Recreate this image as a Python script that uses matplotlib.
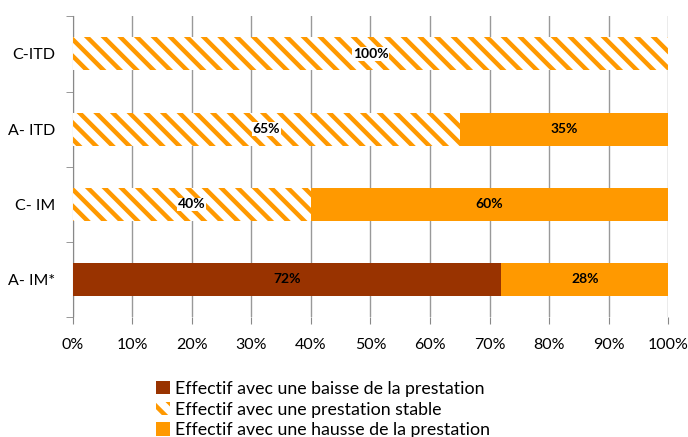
import matplotlib.pyplot as plt
from matplotlib.ticker import PercentFormatter, FixedLocator
from matplotlib.patches import Patch

plt.rcParams['font.family'] = ['Lato', 'DejaVu Sans']
plt.rcParams['hatch.linewidth'] = 3.2
plt.rcParams['hatch.color'] = '#FF9900'

categories = ['A- IM*', 'C- IM', 'A- ITD', 'C-ITD']
baisse = [72, 0, 0, 0]
stable = [0, 40, 65, 100]
hausse = [28, 60, 35, 0]
series_names = ['Effectif avec une baisse de la prestation',
                'Effectif avec une prestation stable',
                'Effectif avec une hausse de la prestation']

col_baisse = '#993300'
col_hausse = '#FF9900'

fig = plt.figure(figsize=(6.88, 4.37), dpi=100)
ax = fig.add_axes([0.106, 0.2746, 0.865, 0.688])

y = list(range(len(categories)))
h = 0.44
ax.barh(y, baisse, height=h, color=col_baisse, zorder=3)
ax.barh(y, stable, left=baisse, height=h, color='white', edgecolor='#FF9900',
        hatch='\\\\', linewidth=0, zorder=3)
left2 = [a + b for a, b in zip(baisse, stable)]
ax.barh(y, hausse, left=left2, height=h, color=col_hausse, zorder=3)

for i in y:
    start = 0
    for vals in (baisse, stable, hausse):
        v = vals[i]
        if v > 0:
            box = None
            if vals is stable:
                box = dict(facecolor='white', edgecolor='none', pad=0.5)
            ax.text(start + v / 2, i, f'{v}%', ha='center', va='center',
                    fontsize=10, fontweight='bold', color='black', zorder=5,
                    bbox=box)
        start += v

ax.set_xlim(0, 100)
ax.set_ylim(-0.5, 3.5)
ax.set_xticks(range(0, 101, 10))
ax.xaxis.set_major_formatter(PercentFormatter(decimals=0))
ax.set_yticks(y)
ax.set_yticklabels(categories, fontsize=11.5)
ax.yaxis.set_minor_locator(FixedLocator([-0.5, 0.5, 1.5, 2.5, 3.5]))
ax.tick_params(axis='y', which='major', length=0, pad=13)
ax.tick_params(axis='y', which='minor', length=5, color='#888888')
ax.tick_params(axis='x', length=5, color='#888888', labelsize=11.5, pad=10)
ax.grid(axis='x', color='#999999', linewidth=1, zorder=0)

for s in ['top', 'right', 'bottom']:
    ax.spines[s].set_visible(False)
ax.spines['left'].set_color('#888888')

handles = [Patch(facecolor=col_baisse),
           Patch(facecolor='white', edgecolor='#FF9900', hatch='\\\\', linewidth=0),
           Patch(facecolor=col_hausse)]
fig.legend(handles, series_names, loc='upper left', bbox_to_anchor=(0.217, 0.145),
           frameon=False, fontsize=12.8, handlelength=0.78, handleheight=0.78,
           handletextpad=0.25, labelspacing=0.27, borderaxespad=0)

fig.savefig('out.png', dpi=100)
